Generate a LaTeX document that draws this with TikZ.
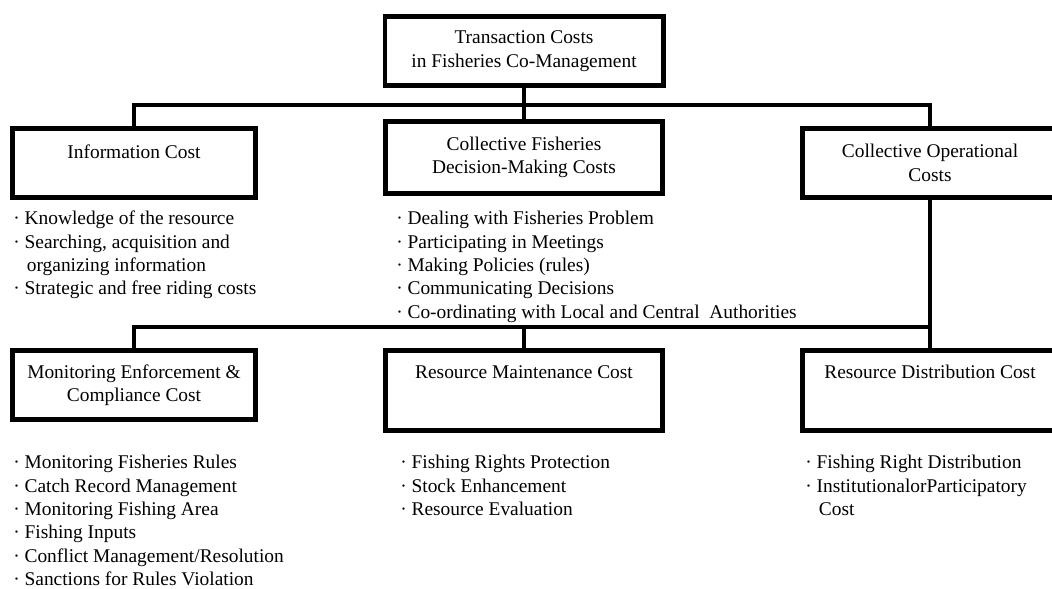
\documentclass[tikz,border=0pt]{standalone}
\usepackage{fontspec}
\setmainfont{Liberation Serif}
\usetikzlibrary{positioning}

\begin{document}
\begin{tikzpicture}[x=0.025cm, y=-0.025cm, every node/.style={font=\fontsize{13.8}{16.6}\selectfont}]

        % Block definitions
        \tikzstyle{block} = [draw, rectangle, line width=3.5pt, align=center, inner sep=0pt, minimum height=1.725cm]
        \tikzstyle{costlist} = [anchor=north west, align=left, inner sep=0pt]
        \tikzstyle{link} = [line width=2.7pt]

        \useasboundingbox (0,0) rectangle (1052,588);

        % Blocks
        \node[block, minimum width=6.95cm] (top) at (524,51) {Transaction Costs\\in Fisheries Co-Management};
        \node[block, minimum width=6.075cm] (info) at (134,163) {Information Cost\\\mbox{}};
        \node[block, minimum width=6.925cm, minimum height=1.8cm] (decision) at (524,157.5) {Collective Fisheries\\Decision-Making Costs};
        \node[block, minimum width=6.375cm] (operation) at (930,163) {Collective Operational\\Costs};
        \node[block, minimum width=6.075cm] (monitor) at (134,385) {Monitoring Enforcement \&\\Compliance Cost};
        \node[block, minimum width=6.925cm, minimum height=2cm] (maintain) at (524,390.5) {Resource Maintenance Cost\\[10pt]\mbox{}};
        \node[block, minimum width=6.375cm, minimum height=2cm] (distrib) at (930,390.5) {Resource Distribution Cost\\[10pt]\mbox{}};

        % Cost items
        \node[costlist] (infolist) at (13,211) {· Knowledge of the resource\\· Searching, acquisition and\\\hspace*{0.7em}organizing information\\· Strategic and free riding costs};
        \node[costlist] (decisionlist) at (396,211) {· Dealing with Fisheries Problem\\· Participating in Meetings\\· Making Policies (rules)\\· Communicating Decisions\\· Co-ordinating with Local and Central\ \ Authorities};
        \node[costlist] (monitorlist) at (13,455) {· Monitoring Fisheries Rules\\· Catch Record Management\\· Monitoring Fishing Area\\· Fishing Inputs\\· Conflict Management/Resolution\\· Sanctions for Rules Violation};
        \node[costlist] (maintainlist) at (400,455) {· Fishing Rights Protection\\· Stock Enhancement\\· Resource Evaluation};
        \node[costlist] (distriblist) at (805,455) {· Fishing Right Distribution\\· InstitutionalorParticipatory\\\hspace*{0.7em}Cost};

        % Connectors
        \coordinate (upperbar) at (524,105);
        \coordinate (lowerbar) at (524,327);
        \draw[link] (top) -- (decision);
        \draw[link] (info.north) |- (upperbar) -| (operation.north);
        \draw[link] (operation) -- (distrib);
        \draw[link] (monitor.north) |- (lowerbar) -| (distrib.north);
        \draw[link] (lowerbar) -- (maintain.north);

\end{tikzpicture}
\end{document}
